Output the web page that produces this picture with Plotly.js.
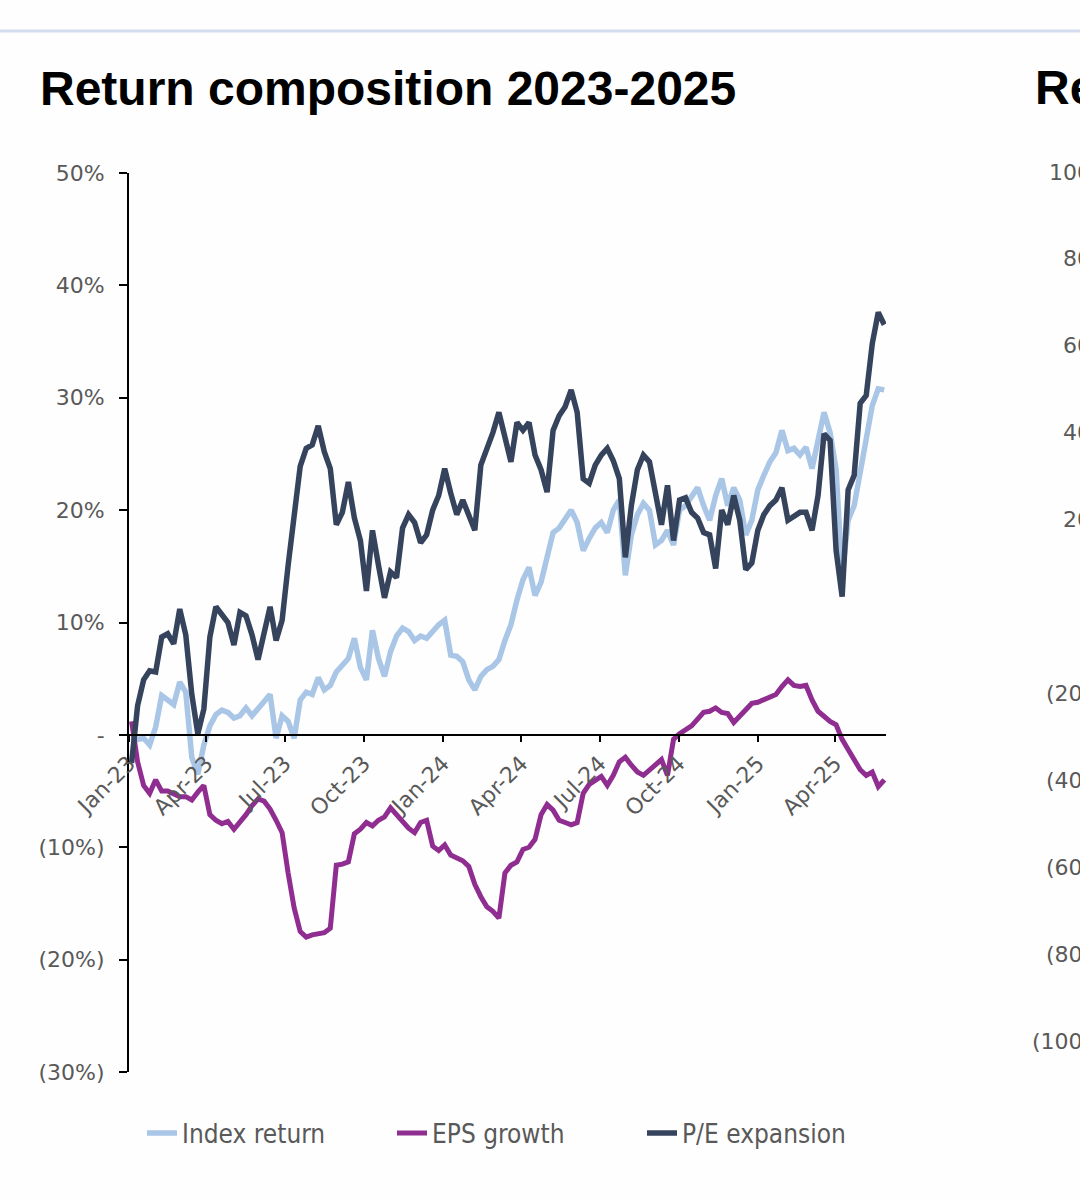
<!DOCTYPE html>
<html>
<head>
<meta charset="utf-8">
<script src="https://cdn.plot.ly/plotly-3.0.1.min.js"></script>
<style>
html,body{margin:0;padding:0;background:#fefefe;overflow:hidden}
#chart{width:1080px;height:1200px}
</style>
</head>
<body>
<div id="chart"></div>
<script>
// ---- data (weekly observations, rebased to Jan-2023, in %) ----
const seriesNames = ['Index return', 'EPS growth', 'P/E expansion'];
const startDate = '2023-01-04';
const weekStepMs = 7 * 24 * 3600 * 1000;

const indexReturn = [
  -0.2,-0.4,-0.3,-0.9,0.7,3.5,3.1,2.7,4.7,3.8,
  -2.0,-3.5,-0.9,0.8,1.8,2.2,2.0,1.5,1.7,2.4,
  1.7,2.4,3.1,3.6,-0.3,1.7,1.2,-0.3,3.1,3.8,
  3.6,5.1,4.0,4.4,5.6,6.3,6.8,8.6,6.0,4.9,
  9.3,6.8,5.2,7.4,8.8,9.5,9.2,8.4,8.8,8.6,
  9.2,9.8,10.2,7.1,7.0,6.5,4.9,4.0,5.2,5.8,
  6.1,6.7,8.4,9.8,12.0,13.8,14.9,12.4,13.6,15.6,
  18.0,18.4,19.1,20.0,18.9,16.4,17.5,18.4,18.9,18.0,
  20.0,20.9,14.2,17.8,19.6,20.6,20.0,16.9,17.3,18.2,
  16.9,20.0,20.4,21.1,22.0,20.4,19.1,21.3,22.8,20.4,
  22.0,20.9,17.8,19.1,21.8,23.1,24.3,25.1,27.1,25.3,
  25.5,24.9,25.6,23.7,26.4,28.7,26.9,23.6,14.2,19.1,
  20.4,23.6,26.2,29.3,30.8,30.7
];

const epsGrowth = [
  1.2,-2.4,-4.5,-5.2,-4.0,-5.0,-5.0,-5.2,-5.5,-5.5,
  -5.8,-5.1,-4.5,-7.1,-7.6,-7.9,-7.7,-8.4,-7.8,-7.1,
  -6.3,-5.7,-5.9,-6.6,-7.6,-8.7,-12.3,-15.4,-17.5,-18.0,
  -17.8,-17.7,-17.6,-17.2,-11.6,-11.5,-11.3,-8.8,-8.4,-7.8,
  -8.1,-7.6,-7.3,-6.5,-7.1,-7.7,-8.3,-8.7,-7.8,-7.6,
  -9.9,-10.3,-9.8,-10.7,-10.9,-11.2,-11.7,-13.3,-14.4,-15.3,
  -15.7,-16.3,-12.3,-11.6,-11.3,-10.2,-10.0,-9.3,-7.1,-6.2,
  -6.7,-7.6,-7.8,-8.0,-7.8,-5.2,-4.4,-4.0,-3.7,-4.5,
  -3.6,-2.4,-2.0,-2.7,-3.3,-3.6,-3.1,-2.7,-2.2,-3.6,
  -0.4,0.1,0.4,0.8,1.4,2.0,2.1,2.4,2.0,1.9,
  1.1,1.7,2.2,2.8,2.9,3.1,3.3,3.6,4.3,4.9,
  4.4,4.3,4.4,3.1,2.1,1.6,1.2,0.9,-0.4,-1.3,
  -2.2,-3.1,-3.6,-3.3,-4.6,-4.0
];

const peExpansion = [
  -2.5,2.6,4.9,5.7,5.6,8.7,9.0,8.1,11.2,8.9,
  3.6,0.1,2.3,8.7,11.4,10.6,10.0,8.0,10.9,10.6,
  8.9,6.7,8.9,11.4,8.4,10.2,15.1,19.5,23.9,25.5,
  25.8,27.5,25.2,23.7,18.7,19.8,22.5,19.3,17.3,12.8,
  18.2,15.1,12.2,14.5,14.0,18.4,19.6,18.9,17.1,17.8,
  20.0,21.3,23.7,21.5,19.6,20.9,19.6,18.2,24.0,25.3,
  26.9,28.7,26.5,24.3,27.8,27.1,27.8,24.9,23.6,21.6,
  27.1,28.4,29.2,30.7,28.7,22.8,22.4,24.0,24.9,25.5,
  24.4,22.8,15.8,20.4,23.6,24.9,24.3,21.3,18.7,22.2,
  17.3,20.9,21.1,19.8,19.3,18.0,17.8,14.8,20.0,18.7,
  21.3,19.1,14.7,15.3,18.2,19.6,20.4,20.9,22.0,19.1,
  19.4,19.8,19.8,18.2,21.3,26.8,26.2,16.4,12.3,21.8,
  23.1,29.5,30.2,34.8,37.6,36.5
];

const yTickVals = [-30, -20, -10, 0, 10, 20, 30, 40, 50];
const yTickText = ['(30%)', '(20%)', '(10%)', '-', '10%', '20%', '30%', '40%', '50%'];

// neighbouring (cut-off) chart on the right edge
const rightTitle = 'Return composition';
const rightTickVals = [100, 80, 60, 40, 20, 0, -20, -40, -60, -80, -100];
const rightTickText = ['100%', '80%', '60%', '40%', '20%', '-', '(20%)', '(40%)', '(60%)', '(80%)', '(100%)'];

// ---- styling / layout ----
const colors = ['#a9c6e6', '#902d90', '#36435d'];
const widths = [5.5, 5, 5.5];
const yRange = [-30, 50];
const xRange = ['2023-01-01', '2025-05-30'];
const W = 1080, H = 1200;
const M = {l: 129, r: 194, t: 173, b: 128};
const plotW = W - M.l - M.r, plotH = H - M.t - M.b;
const px2paperX = px => (px - M.l) / plotW;
const px2paperY = py => (H - M.b - py) / plotH;
const tickFont = {family: 'DejaVu Sans, Verdana, sans-serif', size: 22, color: '#595959'};
const titleFont = {family: 'Liberation Sans, Arial, sans-serif', size: 48, color: '#000', weight: 700};

const values = [indexReturn, epsGrowth, peExpansion];
const traces = values.map((v, i) => ({
  type: 'scatter',
  mode: 'lines',
  name: seriesNames[i],
  x0: startDate,
  dx: weekStepMs,
  y: v,
  line: {color: colors[i], width: widths[i]},
  hoverinfo: 'skip'
}));

// right-chart scale: 100 at px 172, -100 at px 1041
const rTop = 172, rBot = 1041;
const rightY = v => px2paperY(rTop + (100 - v) / 200 * (rBot - rTop));

const annotations = rightTickVals.map((v, i) => ({
  xref: 'paper', yref: 'paper',
  x: px2paperX(1114), y: rightY(v),
  xanchor: 'right', yanchor: 'middle',
  text: rightTickText[i], showarrow: false, font: tickFont
}));
annotations.push({
  xref: 'paper', yref: 'paper',
  x: px2paperX(1033), y: px2paperY(88),
  xanchor: 'left', yanchor: 'middle',
  text: rightTitle, showarrow: false,
  font: titleFont
});

const layout = {
  width: W, height: H,
  margin: M,
  paper_bgcolor: '#fefefe',
  plot_bgcolor: '#fefefe',
  showlegend: true,
  title: {
    text: 'Return composition 2023-2025',
    xref: 'container', yref: 'container',
    x: 40 / W, xanchor: 'left',
    y: 1 - 88 / H, yanchor: 'middle',
    font: titleFont
  },
  xaxis: {
    type: 'date',
    range: xRange,
    anchor: 'free',
    position: (0 - yRange[0]) / (yRange[1] - yRange[0]),
    tick0: '2023-01-01',
    dtick: 'M3',
    tickformat: '%b-%y',
    tickangle: -45,
    ticks: 'outside', ticklen: 6, tickwidth: 2, tickcolor: '#000',
    showline: true, linecolor: '#000', linewidth: 2,
    showgrid: false, zeroline: false,
    tickfont: tickFont
  },
  yaxis: {
    range: yRange,
    tickvals: yTickVals,
    ticktext: yTickText,
    ticks: 'outside', ticklen: 8, tickwidth: 2, tickcolor: '#000',
    ticklabelstandoff: 10,
    showline: true, linecolor: '#000', linewidth: 2,
    showgrid: false, zeroline: false,
    tickfont: tickFont
  },
  legend: {
    orientation: 'h',
    x: px2paperX(142), xanchor: 'left',
    y: px2paperY(1133), yanchor: 'middle',
    entrywidth: 205, entrywidthmode: 'pixels',
    font: {family: 'DejaVu Sans Condensed, DejaVu Sans, sans-serif', size: 26, color: '#595959'},
    bgcolor: 'rgba(0,0,0,0)'
  },
  shapes: [{
    type: 'line', xref: 'paper', yref: 'paper',
    x0: px2paperX(0), x1: px2paperX(W),
    y0: px2paperY(31), y1: px2paperY(31),
    line: {color: '#d4deee', width: 3}
  }],
  annotations: annotations
};

Plotly.newPlot('chart', traces, layout, {displayModeBar: false, staticPlot: true});
</script>
</body>
</html>
